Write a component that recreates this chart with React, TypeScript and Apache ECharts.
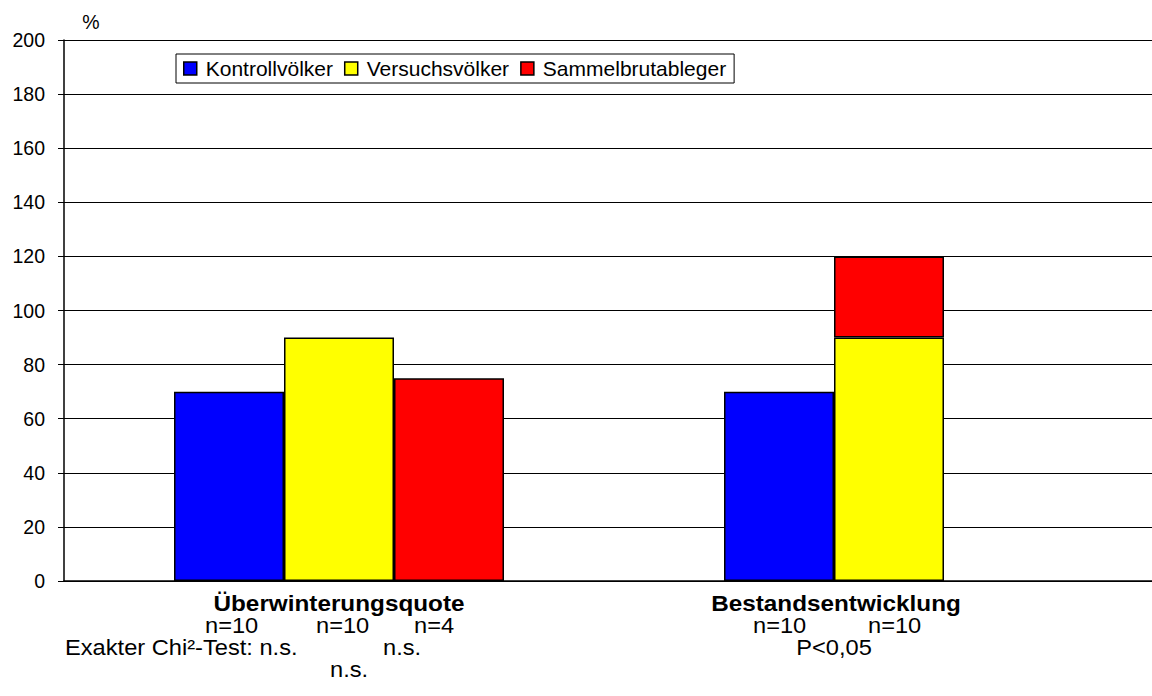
import React, { useEffect, useRef } from "react";
import * as echarts from "echarts";

// ---- data ----
const categories = ["Überwinterungsquote", "Bestandsentwicklung"];
const seriesNames = ["Kontrollvölker", "Versuchsvölker", "Sammelbrutableger"];
const kontrollvoelker = [70, 70];
const versuchsvoelker = [90, 90];
const sammelbrutableger = [75, null];
const sammelbrutablegerStacked = [null, 30];
const colors = ["#0000FF", "#FFFF00", "#FF0000"];
const yMin = 0;
const yMax = 200;
const yInterval = 20;

const nLabelsGroup1 = ["n=10", "n=10", "n=4"];
const nLabelsGroup2 = ["n=10", "n=10"];
const testLineGroup1 = ["Exakter Chi²-Test: n.s.", "n.s.", "n.s."];
const testLineGroup2 = "P<0,05";
const unitLabel = "%";

const FONT = "'Liberation Sans', Arial, Helvetica, sans-serif";

export default function App() {
  const ref = useRef<HTMLDivElement>(null);

  useEffect(() => {
    if (!ref.current) return;
    const chart = echarts.init(ref.current, undefined, { renderer: "svg" });

    const txt = (
      text: string,
      x: number,
      y: number,
      align: string,
      size = 21.5,
      bold = false,
      sx = 1.1
    ) => ({
      type: "text",
      x,
      y,
      scaleX: sx,
      silent: true,
      style: {
        text,
        fill: "#000",
        fontSize: size,
        fontFamily: FONT,
        fontWeight: bold ? "bold" : "normal",
        align,
        verticalAlign: "middle",
      },
    });

    const barStyle = (c: string) => ({
      color: c,
      borderColor: "#000",
      borderWidth: 1.5,
    });

    chart.setOption({
      animation: false,
      backgroundColor: "#ffffff",
      textStyle: { fontFamily: FONT },
      grid: { left: 64, right: 16, top: 40, bottom: 115, containLabel: false },
      legend: {
        data: seriesNames,
        left: 176,
        top: 54,
        orient: "horizontal",
        icon: "rect",
        itemWidth: 13,
        itemHeight: 13,
        itemGap: 11,
        padding: [4, 8, 4, 7],
        borderColor: "#000",
        borderWidth: 1,
        backgroundColor: "#fff",
        itemStyle: { borderColor: "#000", borderWidth: 1.5 },
        textStyle: {
          fontSize: 21,
          color: "#000",
          fontFamily: FONT,
          padding: [0, 0, 0, 4],
        },
        selectedMode: false,
      },
      xAxis: {
        type: "category",
        data: categories,
        boundaryGap: true,
        axisLine: { show: true, lineStyle: { color: "#000", width: 1.5 } },
        axisTick: { show: false },
        axisLabel: { show: false },
        splitLine: { show: false },
      },
      yAxis: {
        type: "value",
        min: yMin,
        max: yMax,
        interval: yInterval,
        axisLine: { show: true, lineStyle: { color: "#000", width: 1.5 } },
        axisTick: {
          show: true,
          inside: false,
          length: 6,
          lineStyle: { color: "#000", width: 1 },
        },
        axisLabel: {
          margin: 19,
          fontSize: 19.5,
          color: "#000",
          fontFamily: FONT,
        },
        splitLine: { show: true, lineStyle: { color: "#000", width: 1 } },
      },
      series: [
        {
          name: seriesNames[0],
          type: "bar",
          stack: "a",
          barWidth: 110,
          barGap: "0%",
          data: kontrollvoelker,
          itemStyle: barStyle(colors[0]),
        },
        {
          name: seriesNames[1],
          type: "bar",
          stack: "b",
          barWidth: 110,
          barGap: "0%",
          data: versuchsvoelker,
          itemStyle: barStyle(colors[1]),
        },
        {
          name: seriesNames[2],
          type: "bar",
          stack: "c",
          barWidth: 110,
          barGap: "0%",
          data: sammelbrutableger,
          itemStyle: barStyle(colors[2]),
        },
        {
          name: seriesNames[2],
          type: "bar",
          stack: "b",
          barWidth: 110,
          barGap: "0%",
          data: sammelbrutablegerStacked,
          itemStyle: barStyle(colors[2]),
        },
      ],
      graphic: [
        txt(unitLabel, 91, 22, "center", 19.5, false, 1),
        txt(categories[0], 339, 604, "center", 21.5, true, 1.13),
        txt(nLabelsGroup1[0], 205, 626, "left"),
        txt(nLabelsGroup1[1], 316, 626, "left"),
        txt(nLabelsGroup1[2], 414, 626, "left"),
        txt(testLineGroup1[0], 65, 648, "left"),
        txt(testLineGroup1[1], 383, 648, "left"),
        txt(testLineGroup1[2], 330, 670, "left"),
        txt(categories[1], 836, 604, "center", 21.5, true, 1.13),
        txt(nLabelsGroup2[0], 753, 626, "left"),
        txt(nLabelsGroup2[1], 868, 626, "left"),
        txt(testLineGroup2, 834, 648, "center"),
      ],
    });

    return () => chart.dispose();
  }, []);

  return (
    <div
      style={{
        position: "fixed",
        left: 0,
        top: 0,
        width: 1152,
        height: 696,
        overflow: "hidden",
        background: "#fff",
      }}
    >
      <div ref={ref} style={{ width: 1180, height: 696 }} />
    </div>
  );
}
